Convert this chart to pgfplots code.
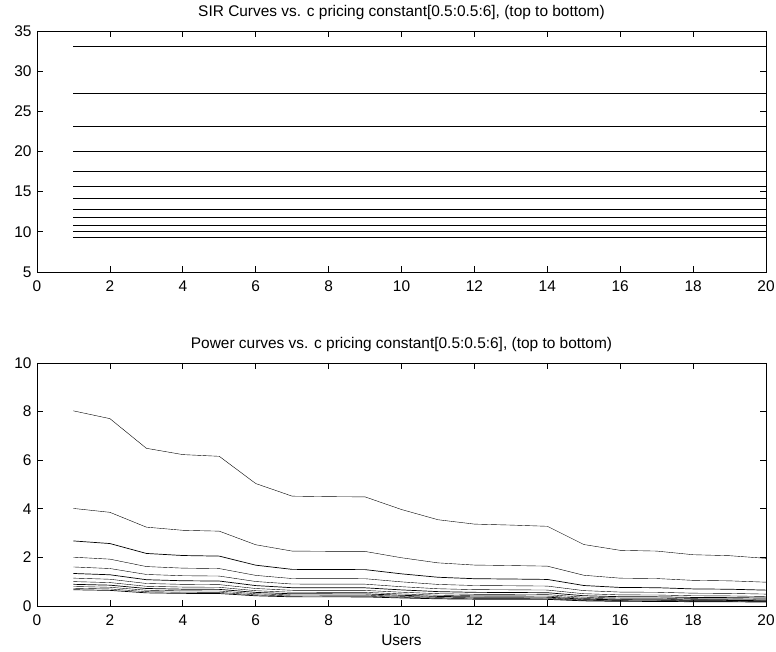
\documentclass[border=0pt]{standalone}
\usepackage{fontspec}
\setmainfont{Liberation Sans}
\usepackage{pgfplots}
\usepackage{pgfplotstable}
\pgfplotsset{compat=1.18}
\pgfplotstableread{
x p1 p2 p3 p4 p5 p6 p7 p8 p9 p10 p11 p12
1 8.03 4.015 2.677 2.008 1.606 1.338 1.147 1.004 0.892 0.803 0.730 0.669
2 7.71 3.855 2.570 1.928 1.542 1.285 1.101 0.964 0.857 0.771 0.701 0.643
3 6.49 3.245 2.163 1.623 1.298 1.082 0.927 0.811 0.721 0.649 0.590 0.541
4 6.23 3.115 2.077 1.558 1.246 1.038 0.890 0.779 0.692 0.623 0.566 0.519
5 6.16 3.080 2.053 1.540 1.232 1.027 0.880 0.770 0.684 0.616 0.560 0.513
6 5.04 2.520 1.680 1.260 1.008 0.840 0.720 0.630 0.560 0.504 0.458 0.420
7 4.52 2.260 1.507 1.130 0.904 0.753 0.646 0.565 0.502 0.452 0.411 0.377
8 4.50 2.250 1.500 1.125 0.900 0.750 0.643 0.563 0.500 0.450 0.409 0.375
9 4.49 2.245 1.497 1.123 0.898 0.748 0.641 0.561 0.499 0.449 0.408 0.374
10 3.97 1.985 1.323 0.993 0.794 0.662 0.567 0.496 0.441 0.397 0.361 0.331
11 3.55 1.775 1.183 0.888 0.710 0.592 0.507 0.444 0.394 0.355 0.323 0.296
12 3.37 1.685 1.123 0.843 0.674 0.562 0.481 0.421 0.374 0.337 0.306 0.281
13 3.33 1.665 1.110 0.833 0.666 0.555 0.476 0.416 0.370 0.333 0.303 0.278
14 3.28 1.640 1.093 0.820 0.656 0.547 0.469 0.410 0.364 0.328 0.298 0.273
15 2.53 1.265 0.843 0.633 0.506 0.422 0.361 0.316 0.281 0.253 0.230 0.211
16 2.29 1.145 0.763 0.573 0.458 0.382 0.327 0.286 0.254 0.229 0.208 0.191
17 2.26 1.130 0.753 0.565 0.452 0.377 0.323 0.283 0.251 0.226 0.205 0.188
18 2.11 1.055 0.703 0.528 0.422 0.352 0.301 0.264 0.234 0.211 0.192 0.176
19 2.07 1.035 0.690 0.518 0.414 0.345 0.296 0.259 0.230 0.207 0.188 0.173
20 1.96 0.980 0.653 0.490 0.392 0.327 0.280 0.245 0.218 0.196 0.178 0.163
}\powertab
\begin{document}
\begin{tikzpicture}[x=1bp,y=1bp]
\path[use as bounding box] (0,0) rectangle (776,652);
\pgfplotsset{
  every axis/.append style={
    scale only axis, width=729bp, anchor=south west,
    xmin=0, xmax=20, xtick={0,2,...,20},
    tick align=inside, major tick length=6bp,
    axis line style={line width=0.8bp}, every tick/.style={line width=0.8bp, black},
    /pgf/number format/assume math mode=true,
    tick label style={font=\fontsize{15.5}{18}\selectfont},
    x tick label style={yshift=-5bp},
    y tick label style={xshift=-2bp},
    title style={font=\fontsize{15.5}{18}\selectfont, yshift=2bp},
    label style={font=\fontsize{15.5}{18}\selectfont},
    cycle list={{black,solid,line width=0.7bp}},
    no markers,
  }
}
\begin{axis}[at={(37bp,380bp)}, height=241bp, ymin=5, ymax=35, ytick={5,10,...,35},
  title={SIR Curves vs. c pricing constant[0.5:0.5:6], (top to bottom)}]
\addplot coordinates {(1,33.1) (20,33.1)};
\addplot coordinates {(1,27.2) (20,27.2)};
\addplot coordinates {(1,23.1) (20,23.1)};
\addplot coordinates {(1,20.0) (20,20.0)};
\addplot coordinates {(1,17.6) (20,17.6)};
\addplot coordinates {(1,15.7) (20,15.7)};
\addplot coordinates {(1,14.17) (20,14.17)};
\addplot coordinates {(1,12.85) (20,12.85)};
\addplot coordinates {(1,11.78) (20,11.78)};
\addplot coordinates {(1,10.87) (20,10.87)};
\addplot coordinates {(1,10.04) (20,10.04)};
\addplot coordinates {(1,9.34) (20,9.34)};
\end{axis}
\begin{axis}[at={(37bp,46bp)}, height=243bp, ymin=0, ymax=10, ytick={0,2,...,10},
  title={Power curves vs. c pricing constant[0.5:0.5:6], (top to bottom)},
  xlabel={Users}, xlabel style={yshift=-3bp}]
\foreach \c in {p1,p2,p3,p4,p5,p6,p7,p8,p9,p10,p11,p12}{
  \addplot table[x=x, y=\c] {\powertab};
}
\end{axis}
\end{tikzpicture}
\end{document}
